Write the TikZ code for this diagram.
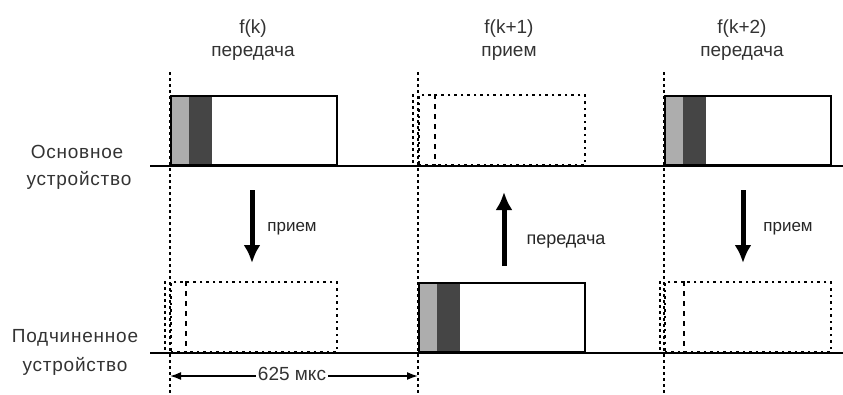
\documentclass[tikz,border=0pt]{standalone}
\usepackage{fontspec}
\setmainfont{Liberation Sans}
\usepackage{xcolor}
\usetikzlibrary{arrows.meta, positioning}

\definecolor{ink}{gray}{0.2}
\definecolor{lightfill}{gray}{0.68}
\definecolor{darkfill}{gray}{0.27}

\tikzset{
	lbl/.style={text=ink, font=\fontsize{19}{22}\selectfont, inner sep=1pt},
	side/.style={text=ink, font=\fontsize{19}{22}\selectfont\addfontfeatures{LetterSpace=4}, inner sep=1pt},
	albl/.style={text=black!85, inner sep=1pt},
	txbox/.style={shape=rectangle, draw, line width=2pt, minimum width=166pt, minimum height=69pt, anchor=south west, inner sep=0pt},
	rxbox/.style={shape=rectangle, draw, line width=1.7pt, dash pattern=on 2.5pt off 4pt, minimum width=166pt, minimum height=70pt, anchor=south west, inner sep=0pt},
	lightbar/.style={shape=rectangle, fill=lightfill, minimum width=19pt, minimum height=69pt, anchor=south west, inner sep=0pt},
	darkbar/.style={shape=rectangle, fill=darkfill, minimum width=23pt, minimum height=69pt, anchor=south west, inner sep=0pt},
	guide/.style={line width=1.4pt, dash pattern=on 2.5pt off 3.5pt},
	base/.style={line width=1.8pt},
	bigarrow/.style={line width=5pt, -{Latex[length=18pt, width=17pt]}},
}

\begin{document}
\begin{tikzpicture}[x=1pt, y=-1pt]
	\useasboundingbox (0,0) rectangle (843,394);
	% Guides and base lines:
	\coordinate (g1top) at (170,72);
	\coordinate (g1bot) at (170,394);
	\coordinate (g2top) at (418,72);
	\coordinate (g2bot) at (418,394);
	\coordinate (g3top) at (664,72);
	\coordinate (g3bot) at (664,394);
	\draw[guide] (g1top) -- (g1bot);
	\draw[guide] (g2top) -- (g2bot);
	\draw[guide] (g3top) -- (g3bot);
	\coordinate (mleft) at (150,166);
	\coordinate (mright) at (843,166);
	\coordinate (sleft) at (150,353);
	\coordinate (sright) at (843,353);
	\draw[base] (mleft) -- (mright);
	\draw[base] (sleft) -- (sright);

	% Master transmit slots:
	\node[lightbar] (mtx1a) at (170,166){};
	\node[darkbar] (mtx1b) at (189,166){};
	\node[txbox] (mtx1) at (170,166){};
	\node[lightbar] (mtx3a) at (664,166){};
	\node[darkbar] (mtx3b) at (683,166){};
	\node[txbox] (mtx3) at (664,166){};
	% Slave transmit slot:
	\node[lightbar] (stx2a) at (418,353){};
	\node[darkbar] (stx2b) at (437,353){};
	\node[txbox] (stx2) at (418,353){};

	% Receive slots (dotted):
	\node[rxbox] (mrx2) at (418,166){};
	\draw[guide] ([xshift=-5pt]mrx2.north west) -- ([xshift=-5pt]mrx2.south west);
	\draw[line width=1.3pt, dash pattern=on 5pt off 5pt] ([xshift=17pt]mrx2.north west) -- ([xshift=17pt]mrx2.south west);
	\node[rxbox] (srx1) at (170,353){};
	\draw[guide] ([xshift=-5pt]srx1.north west) -- ([xshift=-5pt]srx1.south west);
	\draw[line width=1.3pt, dash pattern=on 5pt off 5pt] ([xshift=16pt]srx1.north west) -- ([xshift=16pt]srx1.south west);
	\node[rxbox] (srx3) at (664,353){};
	\draw[guide] ([xshift=-4pt]srx3.north west) -- ([xshift=-4pt]srx3.south west);
	\draw[line width=1.3pt, dash pattern=on 5pt off 5pt] ([xshift=20pt]srx3.north west) -- ([xshift=20pt]srx3.south west);

	% Slot titles:
	\node[lbl] (t1a) at (253,29){f(k)};
	\node[lbl] (t1b) at (253,53){передача};
	\node[lbl] (t2a) at (509,29){f(k+1)};
	\node[lbl] (t2b) at (509,53){прием};
	\node[lbl] (t3a) at (742,29){f(k+2)};
	\node[lbl] (t3b) at (742,53){передача};

	% Device names:
	\node[side] (master1) at (77,152){Основное};
	\node[side] (master2) at (79,180){устройство};
	\node[side] (slave1) at (75,338){Подчиненное};
	\node[side] (slave2) at (75,366){устройство};

	% Direction arrows:
	\coordinate (a1s) at (252,190);
	\coordinate (a1e) at (252,263);
	\draw[bigarrow] (a1s) -- (a1e);
	\node[albl, font=\fontsize{17}{20}\selectfont] (a1l) at (292,229){прием};
	\coordinate (a2s) at (504,266);
	\coordinate (a2e) at (504,192);
	\draw[bigarrow] (a2s) -- (a2e);
	\node[albl, font=\fontsize{18}{21}\selectfont] (a2l) at (566,242){передача};
	\coordinate (a3s) at (743,190);
	\coordinate (a3e) at (743,263);
	\draw[bigarrow] (a3s) -- (a3e);
	\node[albl, font=\fontsize{17}{20}\selectfont] (a3l) at (788,229){прием};

	% Slot length:
	\coordinate (d1) at (170,376);
	\coordinate (d2) at (418,376);
	\draw[line width=1.6pt, {Latex[length=11pt, width=8pt]}-{Latex[length=11pt, width=8pt]}] (d1) -- (d2);
	\node[lbl, fill=white, inner sep=2pt] (dim) at (292,374){625 мкс};
\end{tikzpicture}
\end{document}
